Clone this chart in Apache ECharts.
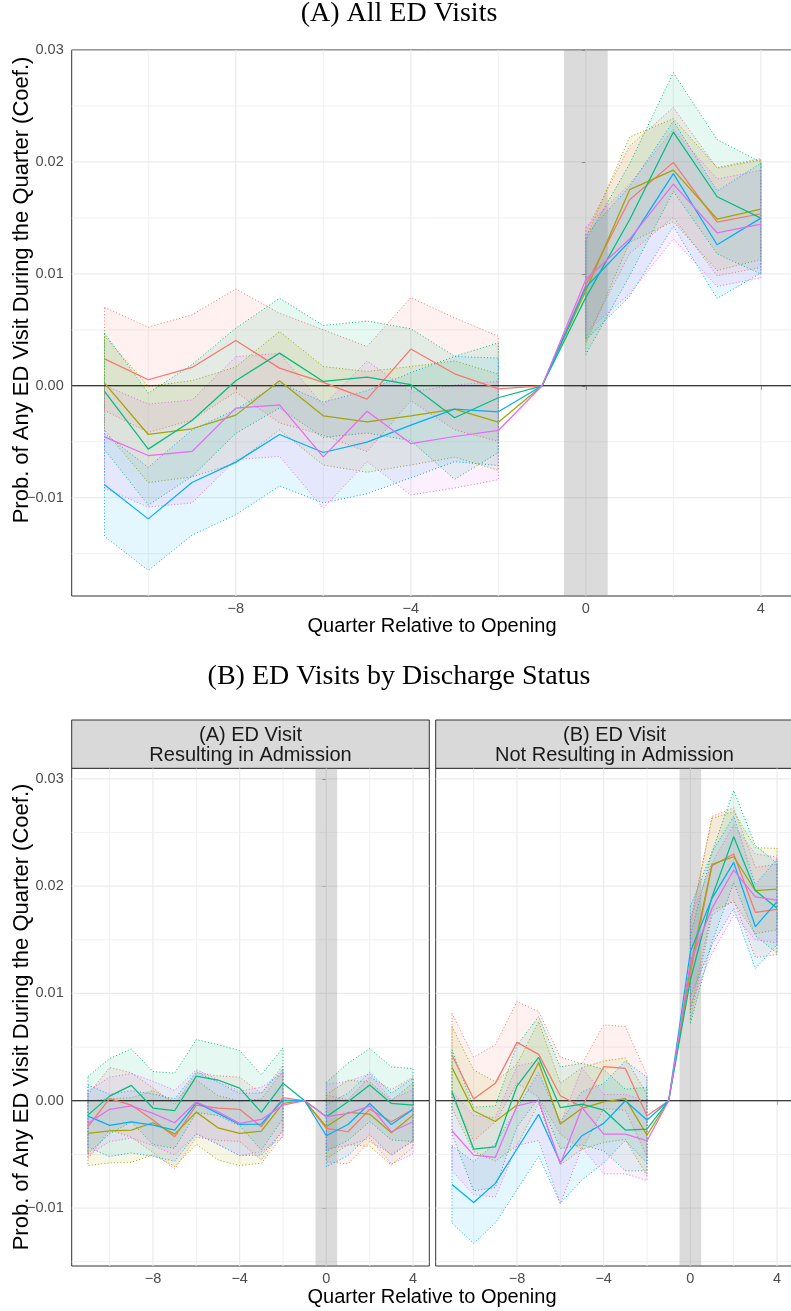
<!DOCTYPE html>
<html>
<head>
<meta charset="utf-8">
<script src="https://cdn.jsdelivr.net/npm/echarts@6/dist/echarts.min.js"></script>
<style>
html,body{margin:0;padding:0;background:#fff;}
#chart{width:791px;height:1311px;}
</style>
</head>
<body>
<div id="chart"></div>
<script>
// ---------------- DATA ----------------
const quarters = [-11,-10,-9,-8,-7,-6,-5,-4,-3,-2,-1,0,1,2,3,4];
const seriesColors = ['#F8766D','#A3A500','#00BF7D','#00B0F6','#E76BF3'];
const xTickValues = [-8,-4,0,4];
const xMinorValues = [-10,-6,-2,2];
const yTickValues = [-0.01,0,0.01,0.02,0.03];
const yMinorValues = [-0.015,-0.005,0.005,0.015,0.025];

// Panel (A) All ED Visits : point estimates
const allRed    = [0.0024,0.00054,0.00164,0.00405,0.00158,0.0003,-0.00119,0.00328,0.00107,-0.00027,0,0.0090,0.01662,0.01996,0.01463,0.01537];
const allOlive  = [0.00024,-0.00435,-0.00384,-0.00262,0.00045,-0.00268,-0.00322,-0.00268,-0.00208,-0.00325,0,0.0085,0.01752,0.01927,0.0149,0.01579];
const allGreen  = [-0.0005,-0.00566,-0.0031,0.00045,0.00292,0.00039,0.00078,0.0001,-0.00286,-0.00107,0,0.0079,0.01483,0.02267,0.01689,0.01498];
const allBlue   = [-0.00885,-0.01189,-0.00864,-0.00682,-0.00435,-0.00596,-0.00504,-0.00352,-0.00208,-0.00232,0,0.0088,0.0129,0.01895,0.0126,0.01498];
const allPurple = [-0.00456,-0.00623,-0.00587,-0.002,-0.0017,-0.00635,-0.00227,-0.00516,-0.00453,-0.00399,0,0.0095,0.01311,0.01802,0.01367,0.01445];
// Panel (A) confidence half-widths (null = no ribbon)
const allRedCI    = [0.0046,0.0047,0.0047,0.0046,0.0049,0.0047,0.0047,0.0046,0.0050,0.0047,null,0.0048,0.0048,0.0049,0.0048,0.0048];
const allOliveCI  = [0.0042,0.0043,0.0043,0.0043,0.0044,0.0044,0.0045,0.0044,0.0043,0.0043,null,0.0047,0.0047,0.0046,0.0046,0.0045];
const allGreenCI  = [0.0052,0.0050,0.0050,0.0047,0.0049,0.0050,0.0050,0.0050,0.0055,0.0049,null,0.0051,0.0050,0.0053,0.0051,0.0050];
const allBlueCI   = [0.0046,0.0046,0.0047,0.0047,0.0046,0.0045,0.0046,0.0047,0.0047,0.0048,null,0.0047,0.0049,0.0047,0.0048,0.0049];
const allPurpleCI = [0.0046,0.0046,0.0046,0.0046,0.0046,0.0046,0.0045,0.0046,0.0046,0.0044,null,0.0047,0.0049,0.0049,0.0048,0.0048];

// Panel (B)(A) ED visit resulting in admission
const admRed    = [-0.00242,0.0002,-0.0004,-0.0018,-0.00336,-0.0004,-0.00068,-0.0008,-0.00242,0.0003,0,-0.00258,-0.00289,-0.0008,-0.00196,-0.0008];
const admOlive  = [-0.00304,-0.0028,-0.00273,-0.00205,-0.00311,-0.00106,-0.00252,-0.00304,-0.00283,-0.00025,0,-0.00242,-0.00109,-0.00124,-0.00298,-0.00134];
const admGreen  = [-0.00134,0.00043,0.00143,-0.00068,-0.00093,0.0023,0.00193,0.00118,-0.00109,0.00162,0,-0.00149,-0.0001,0.00146,-0.00025,-0.0004];
const admBlue   = [-0.00143,-0.0023,-0.00196,-0.00227,-0.00273,-0.00019,-0.00118,-0.00221,-0.00217,0.00006,0,-0.00326,-0.00221,-0.00025,-0.00221,-0.0008];
const admPurple = [-0.00211,-0.0008,-0.00047,-0.00118,-0.00205,-0.0001,-0.00103,-0.00211,-0.00174,-0.0004,0,-0.00149,-0.00118,-0.0005,-0.00289,-0.00196];
const admRedCI    = [0.0030,0.0029,0.0030,0.0030,0.0030,0.0030,0.0030,0.0030,0.0031,0.0030,null,0.0031,0.0030,0.0030,0.0030,0.0030];
const admOliveCI  = [0.0030,0.0030,0.0030,0.0030,0.0030,0.0030,0.0030,0.0030,0.0030,0.0030,null,0.0030,0.0030,0.0030,0.0030,0.0030];
const admGreenCI  = [0.0036,0.0035,0.0034,0.0034,0.0035,0.0034,0.0033,0.0035,0.0035,0.0033,null,0.0032,0.0036,0.0034,0.0034,0.0034];
const admBlueCI   = [0.0029,0.0029,0.0029,0.0029,0.0029,0.0029,0.0029,0.0029,0.0029,0.0029,null,0.0029,0.0029,0.0029,0.0029,0.0029];
const admPurpleCI = [0.0030,0.0030,0.0030,0.0030,0.0030,0.0030,0.0030,0.0030,0.0030,0.0030,null,0.0030,0.0030,0.0030,0.0030,0.0030];

// Panel (B)(B) ED visit not resulting in admission
const nonRed    = [0.00426,0.00016,0.00162,0.00544,0.00432,0.00047,-0.00056,0.00317,0.00301,-0.0014,0,0.0119,0.0219,0.0230,0.01755,0.01783];
const nonOlive  = [0.00311,-0.00093,-0.00193,-0.0004,0.00357,-0.00217,-0.00071,-0.0001,0.0002,-0.0032,0,0.0125,0.02203,0.02274,0.01957,0.01973];
const nonGreen  = [0.00084,-0.0045,-0.00429,0.00137,0.00404,-0.00065,-0.00031,-0.00087,-0.00273,-0.00264,0,0.01125,0.0190,0.0246,0.0196,0.01793];
const nonBlue   = [-0.0078,-0.00948,-0.0077,-0.0045,-0.00127,-0.00575,-0.00326,-0.00211,0.0,-0.0018,0,0.0139,0.01886,0.02221,0.01622,0.01855];
const nonPurple = [-0.0028,-0.00506,-0.00528,-0.00047,0.0,-0.0059,-0.00065,-0.00311,-0.00311,-0.00373,0,0.01295,0.01793,0.0215,0.019,0.0187];
const nonRedCI    = [0.0039,0.0039,0.0036,0.0038,0.0040,0.0036,0.0040,0.0039,0.0039,0.0038,null,0.0044,0.0046,0.0043,0.0042,0.0042];
const nonOliveCI  = [0.0038,0.0038,0.0037,0.0038,0.0038,0.0038,0.0038,0.0038,0.0038,0.0038,null,0.0042,0.0043,0.0042,0.0040,0.0038];
const nonGreenCI  = [0.0039,0.0039,0.0038,0.0038,0.0038,0.0038,0.0038,0.0038,0.0038,0.0039,null,0.0041,0.0042,0.0043,0.0042,0.0042];
const nonBlueCI   = [0.0036,0.0038,0.0037,0.0038,0.0039,0.0038,0.0041,0.0037,0.0037,0.0040,null,0.0042,0.0043,0.0043,0.0039,0.0040];
const nonPurpleCI = [0.0037,0.0037,0.0037,0.0037,0.0037,0.0037,0.0037,0.0037,0.0037,0.0037,null,0.0041,0.0042,0.0042,0.0040,0.0040];

// ---------------- BUILD ----------------
const panels = [
  {est:[allRed,allOlive,allGreen,allBlue,allPurple], ci:[allRedCI,allOliveCI,allGreenCI,allBlueCI,allPurpleCI]},
  {est:[admRed,admOlive,admGreen,admBlue,admPurple], ci:[admRedCI,admOliveCI,admGreenCI,admBlueCI,admPurpleCI]},
  {est:[nonRed,nonOlive,nonGreen,nonBlue,nonPurple], ci:[nonRedCI,nonOliveCI,nonGreenCI,nonBlueCI,nonPurpleCI]}
];

function rgba(hex, a){
  const n = parseInt(hex.slice(1),16);
  return 'rgba(' + ((n>>16)&255) + ',' + ((n>>8)&255) + ',' + (n&255) + ',' + a + ')';
}
const minusFmt = s => s.replace('-', '\u2212');

const FONT = '"Liberation Sans", Arial, sans-serif';

const grids = [
  {left:71.7, top:50, width:722, height:546},
  {left:71.7, top:768.3, width:357.6, height:497.7},
  {left:435.7, top:768.3, width:357.6, height:497.7}
].map(g => Object.assign(g, {show:true, backgroundColor:'#fff', borderColor:'#333333', borderWidth:1, containLabel:false, outerBoundsMode:'none'}));

const yRanges = [[-0.01878, 0.0300],[-0.0154, 0.03098],[-0.0154, 0.03098]];

const xAxes = grids.map((g,i)=>({
  type:'value', gridIndex:i, min:-11.75, max:4.75,
  axisLine:{show:false}, splitLine:{show:false},
  axisTick:{show:true, customValues:xTickValues, length:4, lineStyle:{color:'#333333', width:1}},
  axisLabel:{show:true, customValues:xTickValues, color:'#4D4D4D', fontSize:14.5, fontFamily:FONT, margin:5,
    formatter: v => minusFmt(String(v))}
}));
const yAxes = grids.map((g,i)=>({
  type:'value', gridIndex:i, min:yRanges[i][0], max:yRanges[i][1],
  axisLine:{show:false}, splitLine:{show:false},
  axisTick:{show: i!==2, customValues:yTickValues, length:4, lineStyle:{color:'#333333', width:1}},
  axisLabel:{show: i!==2, customValues:yTickValues, color:'#4D4D4D', fontSize:14.5, fontFamily:FONT, margin:8,
    formatter: v => minusFmt((Math.abs(v)<1e-9?0:v).toFixed(2))}
}));

const series = [];
grids.forEach((g, gi) => {
  // background grid lines
  const gl = [];
  xTickValues.forEach(v=>gl.push([v,0,0,1]));
  xMinorValues.forEach(v=>gl.push([v,0,0,0]));
  yTickValues.forEach(v=>gl.push([0,v,1,1]));
  yMinorValues.forEach(v=>gl.push([0,v,1,0]));
  series.push({
    type:'custom', xAxisIndex:gi, yAxisIndex:gi, z:1, silent:true, clip:true,
    data: gl, encode:{x:0, y:1},
    renderItem(params, api){
      const cs = params.coordSys;
      const orient = api.value(2), major = api.value(3);
      const style = {stroke: major ? '#EBEBEB' : '#EEEEEE', lineWidth: major ? 1.2 : 0.9};
      if (orient === 0) {
        const x = api.coord([api.value(0), 0])[0];
        return {type:'line', shape:{x1:x, y1:cs.y, x2:x, y2:cs.y+cs.height}, style};
      } else {
        const y = api.coord([0, api.value(1)])[1];
        return {type:'line', shape:{x1:cs.x, y1:y, x2:cs.x+cs.width, y2:y}, style};
      }
    }
  });
  // grey opening window
  series.push({
    type:'custom', xAxisIndex:gi, yAxisIndex:gi, z:2, silent:true,
    data:[[-0.5, 0.5]], encode:{x:[0,1]},
    renderItem(params, api){
      const cs = params.coordSys;
      const x1 = api.coord([api.value(0), 0])[0];
      const x2 = api.coord([api.value(1), 0])[0];
      return {type:'rect', shape:{x:x1, y:cs.y, width:x2-x1, height:cs.height}, style:{fill:'rgba(135,135,135,0.3)'}};
    }
  });
  const P = panels[gi];
  // ribbons
  P.est.forEach((est, si) => {
    const hw = P.ci[si];
    const color = seriesColors[si];
    series.push({
      type:'custom', xAxisIndex:gi, yAxisIndex:gi, z:3, silent:true,
      data: quarters.map((q,i)=> hw[i]==null ? [q, est[i], est[i]] : [q, est[i]-hw[i], est[i]+hw[i]]),
      encode:{x:0, y:[1,2]},
      renderItem(params, api){
        if (params.dataIndex !== 0) return null;
        const children = [];
        let seg = [];
        const flush = () => {
          if (seg.length > 1) {
            const up = seg.map(i => api.coord([quarters[i], est[i] + hw[i]]));
            const lo = seg.map(i => api.coord([quarters[i], est[i] - hw[i]])).reverse();
            children.push({type:'polygon', shape:{points: up.concat(lo)},
              style:{fill: rgba(color, 0.1), stroke: color, lineWidth: 1, lineDash:[1, 2.2]}});
          }
          seg = [];
        };
        for (let i = 0; i < quarters.length; i++) {
          if (hw[i] == null) flush(); else seg.push(i);
        }
        flush();
        return {type:'group', children};
      }
    });
  });
  // zero line
  series.push({
    type:'custom', xAxisIndex:gi, yAxisIndex:gi, z:4, silent:true,
    data:[[0,0]], encode:{x:0, y:1},
    renderItem(params, api){
      const cs = params.coordSys;
      const y = api.coord([0, api.value(1)])[1];
      return {type:'line', shape:{x1:cs.x, y1:y, x2:cs.x+cs.width, y2:y}, style:{stroke:'#000', lineWidth:1.1}};
    }
  });
  // estimate lines
  P.est.forEach((est, si) => {
    series.push({
      type:'line', xAxisIndex:gi, yAxisIndex:gi, z:5, silent:true,
      data: quarters.map((q,i)=>[q, est[i]]),
      showSymbol:false, symbol:'none',
      lineStyle:{color: seriesColors[si], width:1.25},
      itemStyle:{color: seriesColors[si]},
      animation:false
    });
  });
});

const serif = '"Liberation Serif", "Times New Roman", serif';
const yTitle = 'Prob. of Any ED Visit During the Quarter (Coef.)';
const graphic = [
  {type:'text', x:399, y:14, style:{text:'(A) All ED Visits', font:'28px ' + serif, fill:'#000', align:'center', verticalAlign:'middle'}},
  {type:'text', x:399, y:677, style:{text:'(B) ED Visits by Discharge Status', font:'28px ' + serif, fill:'#000', align:'center', verticalAlign:'middle'}},
  {type:'text', x:432, y:626, style:{text:'Quarter Relative to Opening', font:'20px ' + FONT, fill:'#000', align:'center', verticalAlign:'middle'}},
  {type:'text', x:432, y:1297, style:{text:'Quarter Relative to Opening', font:'20px ' + FONT, fill:'#000', align:'center', verticalAlign:'middle'}},
  {type:'text', x:22, y:290, rotation:Math.PI/2, style:{text:yTitle, font:'22px ' + FONT, fill:'#000', align:'center', verticalAlign:'middle'}},
  {type:'text', x:22, y:1017, rotation:Math.PI/2, style:{text:yTitle, font:'22px ' + FONT, fill:'#000', align:'center', verticalAlign:'middle'}},
  {type:'rect', shape:{x:71.7, y:720, width:357.6, height:48.3}, style:{fill:'#D9D9D9', stroke:'#333333', lineWidth:1}},
  {type:'rect', shape:{x:435.7, y:720, width:357.6, height:48.3}, style:{fill:'#D9D9D9', stroke:'#333333', lineWidth:1}},
  {type:'text', x:250.5, y:735, style:{text:'(A) ED Visit', font:'20px ' + FONT, fill:'#1A1A1A', align:'center', verticalAlign:'middle'}},
  {type:'text', x:250.5, y:755, style:{text:'Resulting in Admission', font:'20px ' + FONT, fill:'#1A1A1A', align:'center', verticalAlign:'middle'}},
  {type:'text', x:614.5, y:735, style:{text:'(B) ED Visit', font:'20px ' + FONT, fill:'#1A1A1A', align:'center', verticalAlign:'middle'}},
  {type:'text', x:614.5, y:755, style:{text:'Not Resulting in Admission', font:'20px ' + FONT, fill:'#1A1A1A', align:'center', verticalAlign:'middle'}}
];

const chart = echarts.init(document.getElementById('chart'), null, {renderer:'canvas'});
chart.setOption({
  backgroundColor:'#ffffff',
  animation:false,
  textStyle:{fontFamily:FONT},
  grid: grids,
  xAxis: xAxes,
  yAxis: yAxes,
  series,
  graphic
});
</script>
</body>
</html>
